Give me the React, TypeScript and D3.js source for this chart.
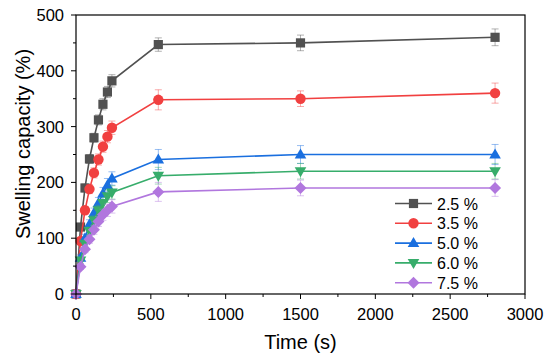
import { useEffect, useRef } from 'react';
import * as d3 from 'd3';

// sampling times (s)
const times = [0, 30, 60, 90, 120, 150, 180, 210, 240, 550, 1500, 2800];

const labels = ['2.5 %', '3.5 %', '5.0 %', '6.0 %', '7.5 %'];
const colors = ['#515151', '#F14040', '#1A6FDF', '#37AD6B', '#B177DE'];
const symbols = ['square', 'circle', 'triangle', 'triangleDown', 'diamond'];

const s25 = [0, 120, 190, 242, 280, 312, 340, 362, 382, 447, 450, 460];
const s35 = [0, 95, 150, 188, 217, 241, 264, 282, 298, 348, 350, 360];
const s50 = [0, 65, 100, 125, 145, 163, 180, 195, 207, 241, 250, 250];
const s60 = [0, 60, 90, 113, 132, 150, 163, 175, 182, 212, 220, 220];
const s75 = [0, 49, 80, 98, 115, 130, 142, 150, 157, 183, 190, 190];

const e25 = [0, 6, 7, 8, 8, 9, 10, 10, 11, 12, 14, 15];
const e35 = [0, 6, 7, 8, 9, 10, 10, 11, 12, 18, 14, 18];
const e50 = [0, 5, 7, 8, 9, 10, 11, 12, 12, 18, 16, 18];
const e60 = [0, 5, 6, 7, 8, 9, 10, 11, 12, 15, 14, 14];
const e75 = [0, 5, 6, 7, 8, 9, 10, 11, 12, 17, 14, 15];

const series = [s25, s35, s50, s60, s75];
const errors = [e25, e35, e50, e60, e75];

const xTicks = [0, 500, 1000, 1500, 2000, 2500, 3000];
const yTicks = [0, 100, 200, 300, 400, 500];

function drawMarker(g: any, sym: string, x: number, y: number, color: string) {
  if (sym === 'circle') {
    g.append('circle').attr('cx', x).attr('cy', y).attr('r', 5.2).attr('fill', color);
    return;
  }
  let pts: [number, number][] = [];
  if (sym === 'square') pts = [[-4.6, -4.6], [4.6, -4.6], [4.6, 4.6], [-4.6, 4.6]];
  if (sym === 'triangle') pts = [[0, -6], [5.8, 4], [-5.8, 4]];
  if (sym === 'triangleDown') pts = [[0, 6], [5.8, -4], [-5.8, -4]];
  if (sym === 'diamond') pts = [[0, -6], [6, 0], [0, 6], [-6, 0]];
  g.append('polygon')
    .attr('points', pts.map(p => `${x + p[0]},${y + p[1]}`).join(' '))
    .attr('fill', color);
}

export default function App() {
  const svgRef = useRef<SVGSVGElement>(null);

  useEffect(() => {
    if (!svgRef.current) return;
    const svg = d3.select(svgRef.current);
    svg.selectAll('*').remove();

    const left = 76, right = 525, top = 15, bottom = 294;
    const x = d3.scaleLinear().domain([0, 3000]).range([left, right]);
    const y = d3.scaleLinear().domain([0, 500]).range([bottom, top]);
    const font = 'Liberation Sans, Arial, sans-serif';

    // Series: lines, error bars, markers
    series.forEach((vals, i) => {
      const g = svg.append('g');
      const line = d3.line<number>()
        .x((_, j) => x(times[j]))
        .y(d => y(d));
      g.append('path')
        .datum(vals)
        .attr('d', line)
        .attr('fill', 'none')
        .attr('stroke', colors[i])
        .attr('stroke-width', 1.6);

      vals.forEach((v, j) => {
        const e = errors[i][j];
        if (!e) return;
        const cx = x(times[j]);
        g.append('line')
          .attr('x1', cx).attr('x2', cx)
          .attr('y1', y(v - e)).attr('y2', y(v + e))
          .attr('stroke', colors[i]).attr('stroke-opacity', 0.45).attr('stroke-width', 1);
        [v - e, v + e].forEach(ev => {
          g.append('line')
            .attr('x1', cx - 3.5).attr('x2', cx + 3.5)
            .attr('y1', y(ev)).attr('y2', y(ev))
            .attr('stroke', colors[i]).attr('stroke-opacity', 0.45).attr('stroke-width', 1);
        });
      });

      vals.forEach((v, j) => drawMarker(g, symbols[i], x(times[j]), y(v), colors[i]));
    });

    // Frame
    svg.append('rect')
      .attr('x', left).attr('y', top)
      .attr('width', right - left).attr('height', bottom - top)
      .attr('fill', 'none').attr('stroke', '#000').attr('stroke-width', 1.2);

    // X ticks
    d3.range(0, 3001, 250).forEach(t => {
      const major = t % 500 === 0;
      svg.append('line')
        .attr('x1', x(t)).attr('x2', x(t))
        .attr('y1', bottom).attr('y2', bottom + (major ? 5 : 3))
        .attr('stroke', '#000').attr('stroke-width', 1);
    });
    xTicks.forEach(t => {
      svg.append('text')
        .attr('x', x(t)).attr('y', 320)
        .attr('text-anchor', 'middle')
        .attr('font-family', font).attr('font-size', 16.5)
        .text(t);
    });

    // Y ticks
    d3.range(0, 501, 50).forEach(t => {
      const major = t % 100 === 0;
      svg.append('line')
        .attr('x1', left).attr('x2', left - (major ? 5 : 3))
        .attr('y1', y(t)).attr('y2', y(t))
        .attr('stroke', '#000').attr('stroke-width', 1);
    });
    yTicks.forEach(t => {
      svg.append('text')
        .attr('x', 64).attr('y', y(t) + 6)
        .attr('text-anchor', 'end')
        .attr('font-family', font).attr('font-size', 16.5)
        .text(t);
    });

    // Axis titles
    svg.append('text')
      .attr('x', x(1500)).attr('y', 349)
      .attr('text-anchor', 'middle')
      .attr('font-family', font).attr('font-size', 20)
      .text('Time (s)');
    svg.append('text')
      .attr('transform', 'translate(30,144) rotate(-90)')
      .attr('text-anchor', 'middle')
      .attr('font-family', font).attr('font-size', 20)
      .text('Swelling capacity (%)');

    // Legend
    labels.forEach((lab, i) => {
      const ly = 203.5 + i * 19.8;
      svg.append('line')
        .attr('x1', 395).attr('x2', 432)
        .attr('y1', ly).attr('y2', ly)
        .attr('stroke', colors[i]).attr('stroke-width', 1.6);
      drawMarker(svg, symbols[i], 413.5, ly, colors[i]);
      svg.append('text')
        .attr('x', 437).attr('y', ly + 6)
        .attr('font-family', font).attr('font-size', 16)
        .text(lab);
    });
  }, []);

  return (
    <svg ref={svgRef} width={550} height={360}
      style={{ position: 'absolute', left: 0, top: 0, background: '#fff' }} />
  );
}
